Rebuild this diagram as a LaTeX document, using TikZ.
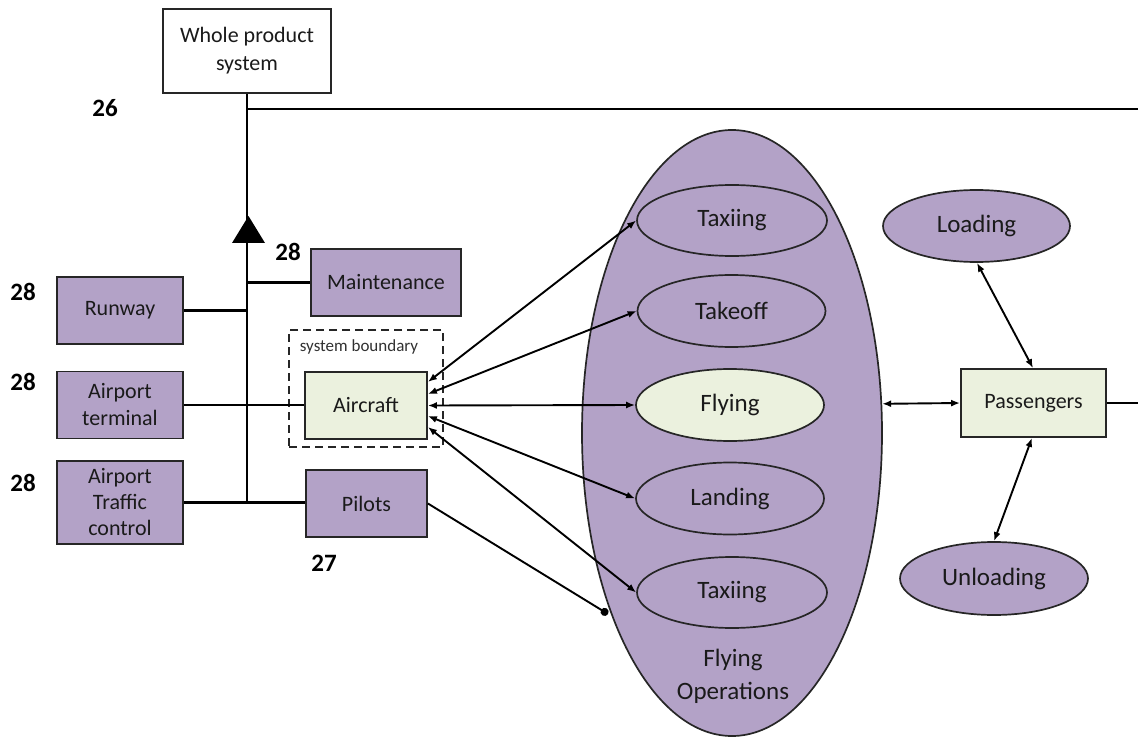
\documentclass[tikz,border=0pt]{standalone}
\usepackage{fontspec}
\setmainfont{Carlito}
\usetikzlibrary{shapes.geometric,arrows.meta,calc}
\definecolor{purp}{HTML}{B3A2C7}
\definecolor{lgreen}{HTML}{EBF1DE}
\definecolor{txt}{HTML}{1A1A1A}
\tikzset{
  box/.style={draw=black!85, line width=1.8pt, fill=purp, inner sep=2pt, align=center,
              font=\fontsize{22}{27}\selectfont, text=txt},
  gbox/.style={box, fill=lgreen},
  oval/.style={ellipse, draw=black!85, line width=1.7pt, fill=purp, inner sep=0pt,
               font=\fontsize{25}{30}\selectfont, text=txt},
  num/.style={font=\fontsize{25}{30}\selectfont\bfseries, text=black},
  ln/.style={line width=2.2pt, draw=black},
  dbl/.style={line width=1.9pt, draw=black, {Latex[length=9pt,width=7pt]}-{Latex[length=9pt,width=7pt]}},
}
\begin{document}
\begin{tikzpicture}[x=1pt, y=-1pt]
\useasboundingbox (0,0) rectangle (1138,738);
\fill[white] (0,0) rectangle (1138,738);

% big ellipse
\node[oval, minimum width=300pt, minimum height=606pt] (flyops) at (732,433) {};
\node[font=\fontsize{25}{33}\selectfont, text=txt, align=center] (flyopslbl) at (733,676) {Flying\\Operations};

% inner ellipses
\node[oval, minimum width=190pt, minimum height=71pt] (taxi1) at (732,220.5) {Taxiing};
\node[oval, minimum width=188pt, minimum height=72pt] (takeoff) at (731.5,311) {Takeoff};
\node[oval, fill=lgreen, minimum width=188pt, minimum height=72pt] (flying) at (730,405) {Flying};
\node[oval, minimum width=188pt, minimum height=72pt] (landing) at (730,498.5) {Landing};
\node[oval, minimum width=190pt, minimum height=71pt] (taxi2) at (732,592.5) {Taxiing};

\node[oval, minimum width=187pt, minimum height=72pt] (loading) at (976.5,226) {Loading};
\node[oval, minimum width=188pt, minimum height=73pt] (unloading) at (994,578.5) {Unloading};

% boxes
\node[box, fill=white, minimum width=168pt, minimum height=84pt, font=\fontsize{22}{28}\selectfont] (wps) at (247,51) {Whole product\\system};
\node[box, minimum width=150pt, minimum height=67pt] (maint) at (386,282.5) {Maintenance};
\node[box, minimum width=126pt, minimum height=67pt] (runway) at (120,310.5) {Runway};
\node[box, minimum width=126pt, minimum height=67pt] (terminal) at (120,405) {Airport\\terminal};
\node[box, minimum width=126pt, minimum height=83pt, font=\fontsize{22}{26}\selectfont] (atc) at (120,502.5) {Airport\\Traffic\\control};
\node[draw=black!85, line width=2.2pt, dash pattern=on 8pt off 5pt, minimum width=154pt, minimum height=117pt, inner sep=0pt] (sysb) at (366,388.5) {};
\node[font=\fontsize{17}{20}\selectfont, text=txt!90] (sysblbl) at (359,347) {system boundary};
\node[gbox, minimum width=122pt, minimum height=67pt] (aircraft) at (366,405.5) {Aircraft};
\node[box, minimum width=121pt, minimum height=67pt] (pilots) at (366.5,503.5) {Pilots};
\node[gbox, minimum width=145pt, minimum height=68pt] (pass) at (1033.5,403) {Passengers};

% numbers
\node[num] (n26) at (105,108) {26};
\node[num] (n28m) at (288,252) {28};
\node[num] (n28r) at (23,292) {28};
\node[num] (n28t) at (23,382) {28};
\node[num] (n28a) at (23,483) {28};
\node[num] (n27) at (324,563) {27};

% coordinates
\coordinate (hj) at (247,109);
\coordinate (hr) at (1138,109);
\coordinate (pr) at (1138,403);
\coordinate (pdot) at (608,614);

% tree lines
\draw[ln] (wps.south) -- (atc.east -| wps.south);
\draw[ln] (hj) -- (hr);
\fill[black] (232,243) -- (265,243) -- (248.5,216) -- cycle;
\draw[ln] (maint.west) -- (maint.west -| wps.south);
\draw[ln] (runway.east) -- (runway.east -| wps.south);
\draw[ln] (terminal.east) -- (terminal.east -| aircraft.west);
\draw[ln] (atc.east) -- (atc.east -| pilots.west);

% aircraft arrows
\draw[dbl] ([yshift=23.5pt]aircraft.east) -- (taxi1.west);
\draw[dbl] ([yshift=11.5pt]aircraft.east) -- (takeoff.west);
\draw[dbl] (aircraft.east) -- (flying.west);
\draw[dbl] ([yshift=-10.5pt]aircraft.east) -- (landing.west);
\draw[dbl] ([yshift=-21.5pt]aircraft.east) -- (taxi2.west);

% pilots
\draw[line width=1.9pt, -{Circle[length=8pt]}] (pilots.east) -- (pdot);

% passengers
\draw[dbl] (flyops.11.4) -- (pass.west);
\draw[dbl] ([xshift=0.5pt]loading.south) -- ([xshift=-0.5pt]pass.north);
\draw[dbl] ([xshift=-1.5pt]pass.south) -- (unloading.north);
\draw[ln] (pass.east) -- (pr);
\end{tikzpicture}
\end{document}
